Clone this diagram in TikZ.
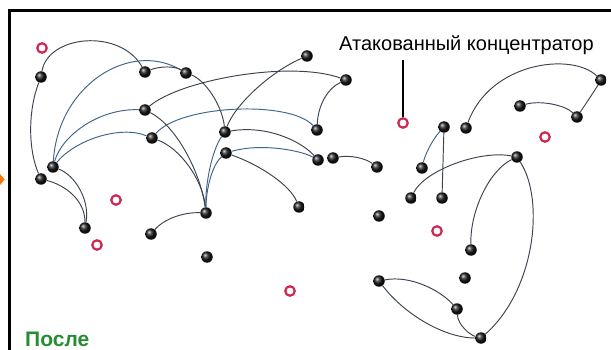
\documentclass[tikz,border=0pt]{standalone}
\usepackage{fontspec}
\setmainfont{Liberation Sans}
\begin{document}
\begin{tikzpicture}[x=1pt,y=-1pt,
  dot/.style={circle,inner sep=0pt,minimum size=11.5pt,shading=ball,ball color=black!90},
  hub/.style={circle,inner sep=0pt,minimum size=9.5pt,draw={rgb,255:red,205;green,40;blue,80},line width=2.2pt,fill=white},
  link/.style={draw={rgb,255:red,60;green,68;blue,80},line width=0.95pt},
  bluelink/.style={draw={rgb,255:red,65;green,100;blue,140},line width=0.95pt},
  frame/.style={draw=black,line width=2.8pt}
]
\useasboundingbox (0,0) rectangle (611,350);
\fill[white] (0,0) rectangle (611,350);
% frame
\draw[frame] (9.5,350) -- (9.5,10.5) -- (611,10.5);
\fill[orange!90!red] (0,174) -- (4.5,179.5) -- (0,185) -- cycle;

% attacked hubs (red rings)
\node[hub] (r1) at (42,48) {};
\node[hub] (r2) at (116,200) {};
\node[hub] (r3) at (97,245) {};
\node[hub] (r4) at (290,291) {};
\node[hub] (r5) at (403,123) {};
\node[hub] (r6) at (545,137) {};
\node[hub] (r7) at (437,231) {};

% left cluster nodes
\node[dot] (A1) at (41,77) {};
\node[dot] (A2) at (145,72) {};
\node[dot] (A3) at (186,73) {};
\node[dot] (A4) at (307,56) {};
\node[dot] (A5) at (346,80) {};
\node[dot] (A6) at (145,110) {};
\node[dot] (A7) at (152,138) {};
\node[dot] (A8) at (225,132) {};
\node[dot] (A9) at (317,130) {};
\node[dot] (A10) at (226,153) {};
\node[dot] (A11) at (318,160) {};
\node[dot] (A12) at (333,158) {};
\node[dot] (A13) at (377,167) {};
\node[dot] (A14) at (53,167) {};
\node[dot] (A15) at (41,179) {};
\node[dot] (A16) at (85,228) {};
\node[dot] (A17) at (151,234) {};
\node[dot] (A18) at (206,213) {};
\node[dot] (A19) at (299,207) {};
\node[dot] (A20) at (207,257) {};
\node[dot] (A21) at (379,216) {};

% right cluster nodes
\node[dot] (B1) at (444,127) {};
\node[dot] (B2) at (466,128) {};
\node[dot] (B3) at (520,106) {};
\node[dot] (B4) at (577,117) {};
\node[dot] (B5) at (601,80) {};
\node[dot] (B6) at (422,168) {};
\node[dot] (B7) at (411,198) {};
\node[dot] (B8) at (442,198) {};
\node[dot] (B9) at (517,157) {};
\node[dot] (B10) at (471,250) {};
\node[dot] (B11) at (465,278) {};
\node[dot] (B12) at (379,281) {};
\node[dot] (B13) at (457,309) {};
\node[dot] (B14) at (481,338) {};

% links, left cluster
\path[link] (A1) .. controls (48,35) and (120,28) .. (A2);
\path[link] (A1) .. controls (28,110) and (28,150) .. (A15);
\path[bluelink] (A14) .. controls (58,85) and (130,40) .. (A3);
\path[link] (A2) .. controls (160,66) and (175,66) .. (A3);
\path[link] (A3) .. controls (205,80) and (222,105) .. (A8);
\path[bluelink] (A14) .. controls (62,135) and (100,108) .. (A6);
\path[link] (A6) .. controls (180,80) and (290,60) .. (A5);
\path[link] (A5) .. controls (328,88) and (318,105) .. (A9);
\path[bluelink] (A14) .. controls (75,140) and (120,125) .. (A7);
\path[bluelink] (A7) .. controls (180,105) and (290,100) .. (A9);
\path[link] (A7) .. controls (180,148) and (203,180) .. (A18);
\path[link] (A6) .. controls (175,125) and (200,170) .. (A18);
\path[bluelink] (A8) .. controls (212,150) and (205,185) .. (A18);
\path[bluelink] (A10) .. controls (212,165) and (206,190) .. (A18);
\path[link] (A17) .. controls (165,218) and (185,212) .. (A18);
\path[link] (A4) .. controls (270,72) and (235,105) .. (A8);
\path[link] (A8) .. controls (265,125) and (300,140) .. (A11);
\path[bluelink] (A10) .. controls (260,143) and (300,150) .. (A11);
\path[link] (A12) .. controls (350,155) and (365,158) .. (A13);
\path[link] (A10) .. controls (260,165) and (290,185) .. (A19);
\path[link] (A15) .. controls (65,185) and (85,200) .. (A16);
\path[link] (A14) .. controls (75,175) and (90,200) .. (A16);

% links, right cluster
\path[bluelink] (B1) .. controls (432,140) and (425,155) .. (B6);
\path[link] (B1) -- (B8);
\path[link] (B2) .. controls (490,62) and (572,52) .. (B5);
\path[link] (B3) .. controls (540,100) and (565,105) .. (B4);
\path[link] (B4) .. controls (585,105) and (595,90) .. (B5);
\path[link] (B7) .. controls (425,170) and (480,150) .. (B9);
\path[link] (B9) .. controls (490,170) and (470,210) .. (B10);
\path[link] (B9) .. controls (545,200) and (535,290) .. (B14);
\path[link] (B12) .. controls (410,275) and (440,290) .. (B13);
\path[link] (B12) .. controls (405,315) and (445,338) .. (B14);
\path[link] (B13) .. controls (458,325) and (470,335) .. (B14);

% label
\node[anchor=west,inner sep=0pt,font=\fontsize{20}{22}\selectfont] (lbl) at (339,45) {Атакованный концентратор};
\coordinate (leadtop) at (403,60);
\draw[line width=1.1pt] (leadtop) -- (r5);

\node[anchor=base west,inner sep=0pt,text={rgb,255:red,40;green,140;blue,50},font=\fontsize{21}{23}\selectfont\bfseries] (after) at (25,346) {После};
\end{tikzpicture}
\end{document}
